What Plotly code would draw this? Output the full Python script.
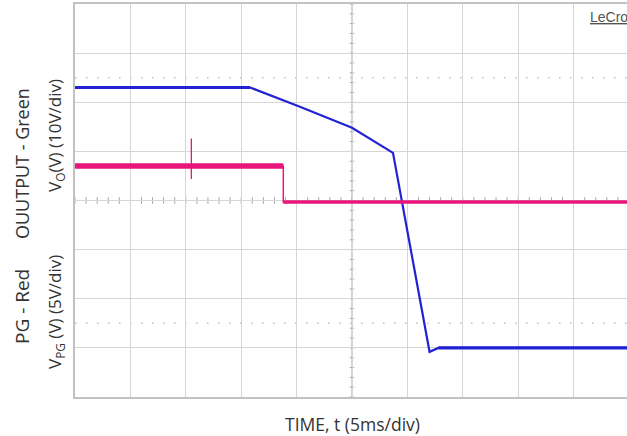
import plotly.graph_objects as go

# ---- data (read from the scope capture) ----
# time axis in ms (5 ms/div, 10 divisions)
vo_time = [0, 15.8, 20.3, 25.0, 28.7, 32.0, 32.8, 50]
vo_volts = [53, 53, 49.1, 44.8, 39.7, -0.8, 0, 0]          # 10 V/div

pg_time = [0, 18.8, 18.8, 50]
pg_volts = [3.5, 3.5, -0.15, -0.15]                        # 5 V/div
pg_spike_time = [10.5, 10.5]
pg_spike_volts = [6.3, 2.2]

x_title = "TIME, t (5ms/div)"
y_title_top = "OUUTPUT - Green"
y_sub_top = "V<sub>O</sub>(V) (10V/div)"
y_title_bot = "PG - Red"
y_sub_bot = "V<sub>PG</sub> (V) (5V/div)"
brand = "<u>LeCroy</u>"

BLUE = "#2222d4"
PINK = "#e8167a"
GRID = "#d6d6d6"
CENTER = "#a9a9a9"

fig = go.Figure()

# PG trace (secondary axis)
fig.add_trace(go.Scatter(x=pg_time, y=pg_volts, mode="lines", yaxis="y2",
                         line=dict(color=PINK, width=1.5), hoverinfo="skip"))
fig.add_trace(go.Scatter(x=pg_time[:2], y=pg_volts[:2], mode="lines", yaxis="y2",
                         line=dict(color=PINK, width=5.5), hoverinfo="skip"))
fig.add_trace(go.Scatter(x=pg_time[2:], y=pg_volts[2:], mode="lines", yaxis="y2",
                         line=dict(color=PINK, width=3.5), hoverinfo="skip"))
fig.add_trace(go.Scatter(x=pg_spike_time, y=pg_spike_volts, mode="lines", yaxis="y2",
                         line=dict(color=PINK, width=1.3), hoverinfo="skip"))

# Vo trace (primary axis)
fig.add_trace(go.Scatter(x=vo_time, y=vo_volts, mode="lines",
                         line=dict(color=BLUE, width=2.2), hoverinfo="skip"))
fig.add_trace(go.Scatter(x=vo_time[:2], y=vo_volts[:2], mode="lines",
                         line=dict(color=BLUE, width=3), hoverinfo="skip"))
fig.add_trace(go.Scatter(x=vo_time[-2:], y=vo_volts[-2:], mode="lines",
                         line=dict(color=BLUE, width=3.2), hoverinfo="skip"))

shapes = []
# center cross lines (x = 25 ms, y = PG 0 V)
shapes.append(dict(type="line", xref="x", yref="paper", x0=25, x1=25, y0=0, y1=1,
                   line=dict(color=CENTER, width=1), layer="below"))
shapes.append(dict(type="line", xref="paper", yref="y2", x0=0, x1=1, y0=0, y1=0,
                   line=dict(color=CENTER, width=1), layer="below"))
# minor ticks on the centre lines (0.2 div)
for i in range(51):
    t = i * 1.0
    shapes.append(dict(type="line", xref="x", yref="y2", x0=t, x1=t, y0=-0.35, y1=0.35,
                       line=dict(color=CENTER, width=1), layer="below"))
for i in range(41):
    v = -20 + i * 1.0
    shapes.append(dict(type="line", xref="x", yref="y2", x0=24.8, x1=25.2, y0=v, y1=v,
                       line=dict(color=CENTER, width=1), layer="below"))
# dotted cursor lines at 1.5 div from top and bottom
for v in [55, 5]:
    shapes.append(dict(type="line", xref="paper", yref="y", x0=0, x1=1, y0=v, y1=v,
                       line=dict(color="#c4c4c4", width=1.5, dash="1.5px,9.5px"), layer="below"))

fig.update_layout(
    width=627, height=436,
    margin=dict(l=75, r=0, t=4, b=39),
    paper_bgcolor="white", plot_bgcolor="white",
    showlegend=False,
    font=dict(family="Open Sans, Noto Sans, sans-serif", size=17, color="#333333"),
    xaxis=dict(range=[0, 49.82], dtick=5, tick0=0, showgrid=True, gridcolor=GRID, gridwidth=1,
               showticklabels=False, ticks="", zeroline=False,
               showline=True, linecolor="#c2c2c2", linewidth=1.5, mirror=True),
    yaxis=dict(range=[-10, 70], dtick=10, tick0=-10, showgrid=True, gridcolor=GRID, gridwidth=1,
               showticklabels=False, ticks="", zeroline=False,
               showline=True, linecolor="#c2c2c2", linewidth=1.5),
    yaxis2=dict(range=[-20, 20], overlaying="y", showgrid=False, showticklabels=False,
                ticks="", zeroline=False, showline=False),
    shapes=shapes,
)

def yp(px):
    return (397 - px) / 393.0

def xp(px):
    return (px - 75) / 552.0

ann = [
    dict(text=y_title_top, x=xp(22), y=yp(164), textangle=-90, font=dict(size=18)),
    dict(text=y_sub_top, x=xp(55), y=yp(136), textangle=-90, font=dict(size=17)),
    dict(text=y_title_bot, x=xp(22), y=yp(307), textangle=-90, font=dict(size=19)),
    dict(text=y_sub_bot, x=xp(55), y=yp(312), textangle=-90, font=dict(size=17)),
    dict(text=x_title, x=xp(352), y=yp(424), font=dict(size=17.5)),
]
for a in ann:
    fig.add_annotation(xref="paper", yref="paper", showarrow=False,
                       xanchor="center", yanchor="middle", **a)

fig.add_annotation(xref="paper", yref="paper", x=xp(588), y=yp(17), text=brand,
                   showarrow=False, xanchor="left", yanchor="middle",
                   font=dict(family="Liberation Sans Narrow, Liberation Sans, sans-serif",
                             size=14, color="#555555"))

fig.write_html("out.html", config={"displayModeBar": False},
               post_script="document.body.style.margin='0';")
